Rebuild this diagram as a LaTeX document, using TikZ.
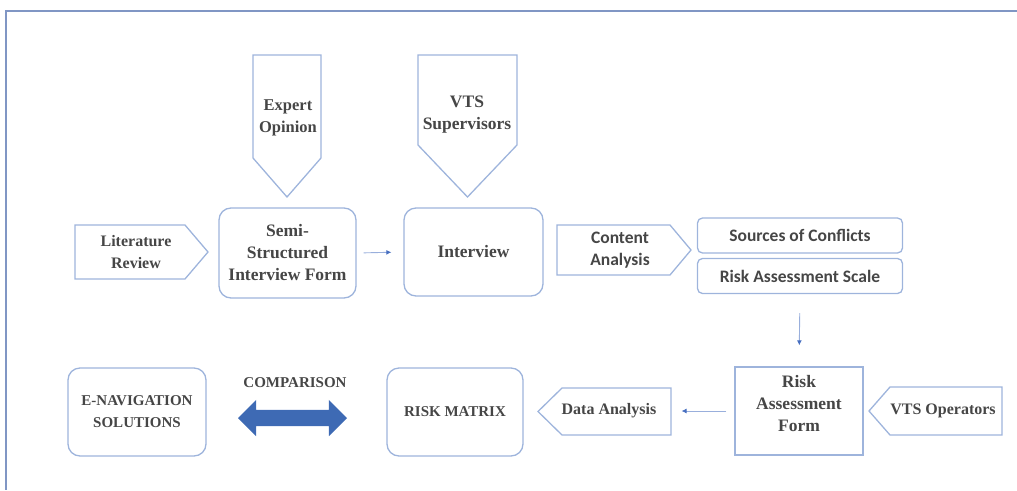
\documentclass[tikz,border=0pt]{standalone}
\usepackage{fontspec}
\setmainfont{Liberation Serif}
\newfontfamily\calfont{Carlito}
\usetikzlibrary{arrows.meta, shapes.arrows}
\definecolor{edge}{RGB}{158,180,220}
\definecolor{rule}{RGB}{128,150,196}
\definecolor{flowblue}{RGB}{70,110,192}
\definecolor{bigblue}{RGB}{62,106,180}
\definecolor{ink}{RGB}{70,70,70}
\def\Txt{\fontsize{16}{22}\selectfont\bfseries}
\def\Big{\fontsize{17.5}{22}\selectfont\bfseries}
\def\Cap{\fontsize{15}{22}\selectfont\bfseries}
\def\Cal{\calfont\fontsize{17.5}{22}\selectfont\bfseries}

\tikzset{
    txt/.style={align=center, text=ink, font=\Txt, inner sep=0pt},
    box/.style={txt, draw=edge, line width=1.3pt, rounded corners=12pt},
    bar/.style={box, rounded corners=5pt, font=\Cal, minimum width=205pt, minimum height=35pt},
    formbox/.style={draw=edge, line width=1.3pt, minimum width=128pt, minimum height=88pt},
    pent/.style={draw=edge, line width=1.3pt, line join=miter},
    flow/.style={draw=flowblue!55!white, line width=0.9pt,
        -{Latex[length=5pt, width=5pt, fill=flowblue, color=flowblue]}},
    rule/.style={draw=rule, line width=1.6pt}
}

\begin{document}
\begin{tikzpicture}[x=1pt, y=-1pt]
    \useasboundingbox (0,0) rectangle (1017,490);
    \draw[rule] (5,11) -- (1017,11);
    \draw[rule] (6,11) -- (6,490);

    % inputs drawn as pointed tags
    \draw[pent] (253,55) -- (321,55) -- (321,158) -- (287,197) -- (253,158) -- cycle;
    \draw[pent] (418,55) -- (517,55) -- (517,145) -- (467.5,197) -- (418,145) -- cycle;
    \draw[pent] (75,225) -- (185,225) -- (208,252) -- (185,279) -- (75,279) -- cycle;
    \draw[pent] (557,225) -- (670,225) -- (691,250) -- (670,275) -- (557,275) -- cycle;
    \draw[pent] (671,388) -- (562,388) -- (538,411.5) -- (562,435) -- (671,435) -- cycle;
    \draw[pent] (1002,387) -- (890,387) -- (869,411) -- (890,435) -- (1002,435) -- cycle;

    \node[txt, font=\fontsize{16.5}{22}\selectfont\bfseries] (expert) at (288,118) {Expert\\Opinion};
    \node[txt, font=\Big] (sup) at (467,115) {VTS\\Supervisors};
    \node[txt] (lit) at (136,252) {Literature\\Review};
    \node[txt, font=\Cal] (content) at (620,250) {Content\\Analysis};
    \node[txt] (data) at (609,411) {Data Analysis};
    \node[txt] (ops) at (943,411) {VTS Operators};

    \node[box, font=\Big, minimum width=137pt, minimum height=90pt] (semi) at (287.5,253)
        {Semi-\\Structured\\Interview Form};
    \node[box, font=\Big, minimum width=139pt, minimum height=88pt] (interview) at (473.5,252) {Interview};
    \node[bar] (sources) at (800,235.5) {Sources of Conflicts};
    \node[bar] (scale) at (800,276) {Risk Assessment Scale};
    \node[formbox] (form) at (799,411) {};
    \node[txt, font=\Big] (formtext) at (799,404) {Risk\\Assessment\\Form};
    \node[box, font=\Cap, minimum width=136pt, minimum height=88pt] (matrix) at (455,412) {RISK MATRIX};
    \node[box, font=\Cap, minimum width=138pt, minimum height=88pt] (enav) at (137,412)
        {E-NAVIGATION\\SOLUTIONS};

    \node[double arrow, fill=bigblue, inner sep=8pt, minimum height=109pt,
        double arrow head extend=10pt] (cmp) at (292.5,418) {};
    \node[txt, font=\Cap] (cmplabel) at (295,383) {COMPARISON};

    \draw[flow, shorten <=7pt, shorten >=12pt] (semi.east) -- (interview.west);
    \draw[flow, shorten <=19pt, shorten >=21pt] (scale.south) -- (form.north);
    \draw[flow, shorten <=8pt, shorten >=25pt] (form.west) -- (data.east);
\end{tikzpicture}
\end{document}
